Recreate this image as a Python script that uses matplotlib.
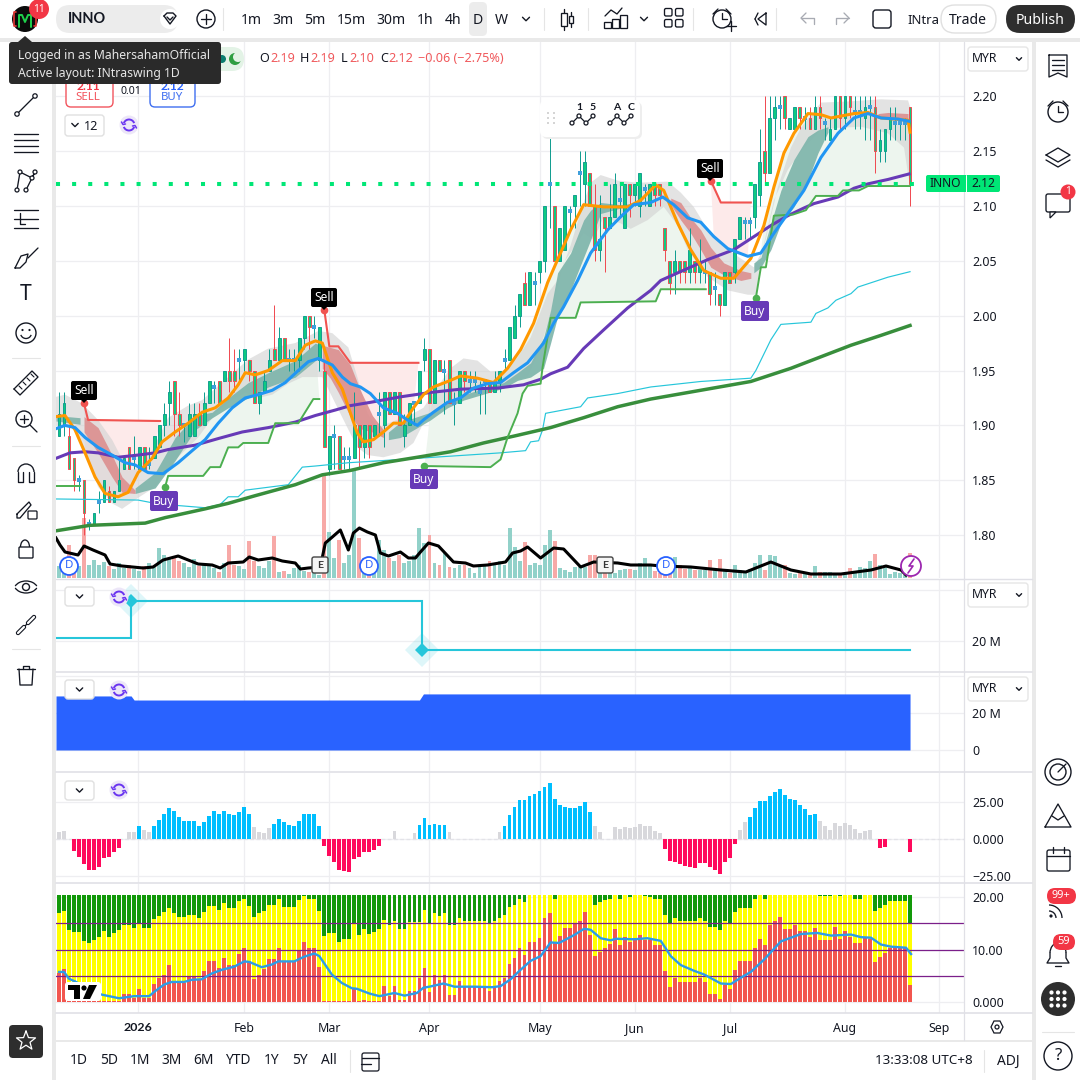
# INNO daily chart with indicators, TradingView style
import numpy as np
import matplotlib
matplotlib.use("Agg")
import matplotlib.pyplot as plt
from matplotlib.patches import FancyBboxPatch, Circle, Rectangle, Polygon, Arc

plt.rcParams["font.family"] = ["Noto Sans", "DejaVu Sans"]
BOLD = ["Lato", "DejaVu Sans"]

# ---- candles, one row is ten sessions ----
opens = [1.89,1.90,1.89,1.87,1.85,1.85,1.81,1.81,1.83,1.83,
         1.84,1.83,1.84,1.86,1.88,1.87,1.86,1.88,1.865,1.87,
         1.88,1.90,1.92,1.94,1.91,1.90,1.89,1.89,1.91,1.90,
         1.92,1.935,1.94,1.94,1.95,1.95,1.96,1.96,1.96,1.95,
         1.92,1.93,1.95,1.97,1.96,1.98,1.96,1.96,1.96,1.98,
         2.00,1.99,1.96,1.95,1.86,1.89,1.89,1.87,1.87,1.87,
         1.90,1.88,1.90,1.89,1.91,1.90,1.93,1.91,1.93,1.89,
         1.90,1.92,1.92,1.96,1.97,1.92,1.96,1.95,1.96,1.92,
         1.92,1.95,1.94,1.94,1.93,1.94,1.94,1.93,1.94,1.96,
         1.96,1.98,2.00,2.03,2.01,2.03,2.04,2.05,2.12,2.10,
         2.05,2.06,2.095,2.10,2.13,2.12,2.13,2.10,2.06,2.09,
         2.08,2.09,2.105,2.08,2.12,2.11,2.10,2.115,2.10,2.12,
         2.12,2.08,2.05,2.04,2.05,2.05,2.04,2.05,2.04,2.04,
         2.04,2.025,2.02,2.01,2.04,2.04,2.07,2.085,2.085,2.09,
         2.11,2.15,2.13,2.18,2.19,2.20,2.17,2.17,2.19,2.18,
         2.18,2.17,2.19,2.175,2.16,2.17,2.20,2.18,2.20,2.185,
         2.185,2.18,2.19,2.19,2.15,2.15,2.17,2.175,2.175,2.175,
         2.19]
highs = [1.93,1.93,1.90,1.87,1.855,1.85,1.815,1.82,1.84,1.85,
         1.845,1.84,1.87,1.87,1.88,1.89,1.88,1.88,1.88,1.89,
         1.90,1.92,1.94,1.94,1.93,1.90,1.92,1.92,1.92,1.93,
         1.94,1.94,1.94,1.95,1.98,1.97,1.97,1.97,1.96,1.95,
         1.93,1.95,1.97,2.01,1.99,1.98,1.97,1.97,1.98,2.00,
         2.00,2.00,1.99,1.96,1.89,1.90,1.89,1.88,1.88,1.93,
         1.90,1.90,1.90,1.90,1.93,1.93,1.93,1.93,1.93,1.91,
         1.92,1.92,1.95,1.98,1.97,1.96,1.96,1.96,1.96,1.93,
         1.95,1.95,1.95,1.95,1.94,1.94,1.94,1.95,1.95,1.97,
         1.99,2.01,2.02,2.04,2.04,2.04,2.05,2.10,2.17,2.10,
         2.08,2.10,2.10,2.11,2.15,2.15,2.13,2.12,2.11,2.09,
         2.12,2.13,2.12,2.12,2.12,2.12,2.13,2.12,2.12,2.12,
         2.12,2.08,2.05,2.06,2.05,2.05,2.08,2.05,2.07,2.05,
         2.04,2.04,2.02,2.04,2.04,2.07,2.09,2.09,2.09,2.12,
         2.17,2.20,2.20,2.20,2.20,2.20,2.18,2.19,2.19,2.19,
         2.19,2.20,2.20,2.18,2.18,2.20,2.20,2.20,2.20,2.20,
         2.20,2.20,2.20,2.20,2.17,2.17,2.19,2.19,2.18,2.18,
         2.19]
lows = [1.89,1.89,1.86,1.84,1.84,1.80,1.805,1.81,1.82,1.83,
        1.83,1.83,1.84,1.86,1.86,1.86,1.86,1.86,1.86,1.87,
        1.88,1.89,1.90,1.89,1.89,1.885,1.89,1.89,1.90,1.90,
        1.92,1.92,1.92,1.94,1.93,1.93,1.94,1.95,1.94,1.92,
        1.91,1.93,1.95,1.96,1.96,1.96,1.95,1.95,1.95,1.97,
        1.97,1.98,1.95,1.88,1.855,1.86,1.86,1.86,1.86,1.87,
        1.86,1.87,1.87,1.89,1.89,1.88,1.91,1.91,1.90,1.88,
        1.90,1.90,1.92,1.95,1.92,1.92,1.95,1.91,1.92,1.90,
        1.92,1.93,1.93,1.93,1.91,1.91,1.93,1.93,1.93,1.95,
        1.96,1.98,1.99,2.01,2.01,2.01,2.03,2.04,2.08,2.05,
        2.05,2.06,2.08,2.08,2.10,2.10,2.10,2.05,2.05,2.04,
        2.08,2.09,2.09,2.08,2.09,2.10,2.09,2.10,2.10,2.10,
        2.10,2.05,2.02,2.02,2.03,2.03,2.03,2.03,2.03,2.03,
        2.01,2.01,2.00,2.01,2.03,2.03,2.07,2.07,2.07,2.08,
        2.10,2.12,2.13,2.16,2.17,2.17,2.17,2.17,2.17,2.17,
        2.17,2.17,2.17,2.16,2.16,2.17,2.17,2.17,2.18,2.17,
        2.17,2.16,2.16,2.13,2.14,2.14,2.16,2.16,2.16,2.16,
        2.10]
closes = [1.91,1.92,1.86,1.85,1.85,1.82,1.81,1.82,1.83,1.85,
          1.83,1.84,1.85,1.87,1.86,1.87,1.88,1.86,1.865,1.89,
          1.90,1.91,1.93,1.91,1.90,1.90,1.91,1.91,1.90,1.92,
          1.94,1.935,1.92,1.95,1.94,1.94,1.96,1.97,1.95,1.92,
          1.93,1.94,1.96,1.96,1.98,1.96,1.96,1.96,1.98,2.00,
          1.99,1.99,1.99,1.88,1.89,1.89,1.86,1.87,1.87,1.90,
          1.88,1.90,1.88,1.90,1.91,1.93,1.91,1.93,1.90,1.90,
          1.92,1.92,1.95,1.97,1.92,1.96,1.95,1.95,1.92,1.92,
          1.95,1.94,1.94,1.94,1.93,1.94,1.93,1.94,1.95,1.96,
          1.99,2.00,2.02,2.01,2.04,2.03,2.05,2.10,2.12,2.05,
          2.08,2.10,2.095,2.11,2.13,2.14,2.10,2.06,2.07,2.08,
          2.09,2.12,2.105,2.12,2.11,2.12,2.13,2.115,2.12,2.11,
          2.11,2.06,2.03,2.05,2.04,2.04,2.06,2.04,2.05,2.04,
          2.02,2.025,2.01,2.04,2.03,2.07,2.09,2.085,2.085,2.12,
          2.14,2.13,2.18,2.19,2.19,2.18,2.18,2.19,2.18,2.18,
          2.17,2.19,2.18,2.175,2.17,2.20,2.18,2.20,2.19,2.185,
          2.185,2.19,2.19,2.15,2.16,2.17,2.18,2.175,2.175,2.175,
          2.12]
volume = [12,10,33,8,12,60,13,18,13,16,
          12,9,15,10,13,9,7,12,15,12,
          30,23,20,20,17,15,11,19,12,13,
          12,10,6,15,33,13,12,9,37,17,
          12,10,17,42,6,7,4,10,13,7,
          6,6,3,103,46,20,38,15,23,108,
          40,20,13,17,38,28,20,17,23,15,
          17,23,50,35,43,15,13,25,11,10,
          13,13,10,5,13,14,17,13,17,13,
          50,31,17,36,13,15,13,33,48,37,
          10,8,6,11,11,11,23,23,18,13,
          10,5,8,9,9,8,15,20,12,7,
          5,6,5,21,13,9,11,8,8,8,
          18,8,19,9,5,13,8,7,9,15,
          23,8,23,22,12,13,5,4,5,5,
          4,12,6,6,6,3,5,5,10,7,
          11,10,17,24,13,11,4,6,5,3,
          25]

# ---- moving averages, as bar position and price ----
orange_x = [-0.6,1.2,3.2,5.2,7.2,9.2,11.8,13.8,15.8,18.6,20.6,23.2,25.8,28.6,31.2,33.8,35.8,37.2,39.2,41.8,44.6,47.2,49.2,51.2,52.6,
            54.6,56.6,58.6,59.6,60.8,62.8,64.8,66.8,68.8,70.8,72.8,74.8,78.2,80.2,83.6,86.8,89.6,92.2,94.8,97.6,99.6,102.2,104.8,108.8,
            113.6,116.2,119.2,120.8,123.6,126.2,128.8,132.2,134.8,138.2,140.8,142.8,144.8,146.8,149.6,152.2,154.2,158.8,161.6,164.2,169.6,170.0]
orange_y = [1.908,1.909,1.896,1.875,1.853,1.838,1.835,1.839,1.857,1.870,1.885,1.894,1.902,1.912,1.916,1.925,1.937,1.948,1.946,1.950,1.959,1.959,1.973,1.977,1.975,
            1.948,1.933,1.906,1.893,1.885,1.887,1.894,1.902,1.902,1.916,1.928,1.935,1.941,1.945,1.943,1.939,1.952,1.969,1.993,2.030,2.051,2.078,2.101,2.099,
            2.099,2.105,2.119,2.114,2.084,2.060,2.041,2.034,2.034,2.052,2.082,2.117,2.148,2.166,2.184,2.183,2.180,2.184,2.185,2.180,2.178,2.167]
blue_x = [-0.6,1.2,3.2,5.2,7.8,10.6,13.2,15.2,17.8,20.8,23.8,26.6,29.2,31.8,34.6,37.2,39.8,42.6,45.2,47.8,49.8,51.8,54.6,56.6,58.2,60.2,62.2,64.8,67.6,69.6,71.6,
          72.8,74.8,77.6,80.2,82.8,85.6,88.2,90.8,93.6,96.8,98.8,100.8,103.6,106.2,109.6,112.2,114.8,118.2,120.6,122.8,125.6,128.2,130.8,133.6,137.6,140.2,142.8,
          145.6,148.8,152.2,155.6,158.8,161.6,164.2,167.6,169.8]
blue_y = [1.897,1.900,1.898,1.889,1.880,1.873,1.866,1.864,1.857,1.856,1.866,1.877,1.887,1.902,1.916,1.925,1.928,1.932,1.939,1.950,1.958,1.961,1.955,1.944,1.938,1.935,1.929,1.916,1.911,1.905,1.900,
          1.905,1.912,1.921,1.925,1.934,1.938,1.939,1.948,1.957,1.975,1.993,2.008,2.032,2.057,2.078,2.090,2.101,2.103,2.108,2.101,2.089,2.085,2.072,2.061,2.054,2.057,2.075,
          2.093,2.114,2.144,2.166,2.180,2.184,2.180,2.179,2.177]
purple_x = [-0.6,2.2,5.2,7.8,11.8,15.8,19.2,21.8,27.2,31.8,36.6,41.8,47.2,51.2,55.2,58.2,62.2,68.2,74.2,80.2,87.6,92.8,96.2,98.2,101.6,104.8,108.8,113.6,118.2,120.2,
            125.6,129.6,134.8,142.2,145.6,148.8,150.8,155.6,158.8,161.6,165.6,169.8]
purple_y = [1.870,1.875,1.876,1.875,1.871,1.873,1.875,1.878,1.882,1.888,1.894,1.898,1.903,1.909,1.914,1.918,1.921,1.926,1.930,1.933,1.934,1.937,1.942,1.947,1.953,1.970,1.987,2.007,2.023,2.032,
            2.043,2.051,2.060,2.082,2.091,2.098,2.102,2.108,2.116,2.120,2.124,2.129]
dgreen_x = [-0.6,6.2,17.2,21.2,29.2,33.8,39.2,47.2,52.6,58.2,64.8,71.6,78.2,84.8,91.6,98.2,104.8,111.6,118.2,128.2,138.2,146.2,158.2,164.2,170.0]
dgreen_y = [1.804,1.809,1.811,1.816,1.824,1.829,1.836,1.846,1.855,1.859,1.866,1.871,1.876,1.884,1.891,1.898,1.907,1.917,1.924,1.932,1.940,1.952,1.973,1.982,1.991]
cyan_x = [-0.6,15.8,19.2,23.8,29.2,32.2,33.8,35.8,37.2,45.8,48.6,51.2,57.8,64.8,81.6,88.2,93.2,94.2,95.8,96.6,97.2,104.2,105.6,111.6,118.2,128.2,138.2,139.2,142.2,144.2,
          150.2,151.2,153.6,155.2,158.2,159.6,163.6,165.6,170.0]
cyan_y = [1.833,1.832,1.829,1.827,1.825,1.828,1.835,1.835,1.841,1.846,1.862,1.863,1.866,1.868,1.873,1.875,1.877,1.885,1.886,1.896,1.911,1.917,1.925,1.929,1.935,1.940,1.943,1.950,1.978,1.992,
          1.994,2.002,2.007,2.014,2.020,2.026,2.032,2.035,2.040]

# ---- trailing stops ----
gstop0_x = [-0.6,4.2]
gstop0_y = [1.845,1.845]
gstop1_x = [21.2,21.8,28.8,30.2,32.2,33.8,35.8,36.8,41.8,43.2,47.8,50.8,52.0]
gstop1_y = [1.844,1.854,1.854,1.862,1.862,1.880,1.880,1.884,1.884,1.902,1.902,1.924,1.924]
gstop2_x = [73.0,86.2,88.2,89.6,91.6,92.6,93.6,96.2,96.6,98.2,103.2,104.2,119.2,120.2,129.2]
gstop2_y = [1.863,1.862,1.869,1.889,1.911,1.929,1.936,1.938,1.953,1.998,1.998,2.012,2.013,2.024,2.024]
gstop3_x = [139.2,140.2,141.2,142.8,146.6,149.2,151.2,155.6,156.6,159.8,161.6,170.0]
gstop3_y = [2.016,2.044,2.044,2.091,2.092,2.096,2.109,2.109,2.114,2.114,2.118,2.118]
rstop1_x = [5.0,5.8,20.2]
rstop1_y = [1.920,1.905,1.904]
rstop2_x = [53.0,54.0,55.8,58.2,71.8]
rstop2_y = [2.005,1.972,1.972,1.957,1.957]
rstop3_x = [130.2,132.2,138.2]
rstop3_y = [2.123,2.103,2.103]

# ---- grey envelope ----
grey_up_x = [-0.6,1.2,4.6,7.8,10.6,13.8,15.8,18.6,21.8,25.8,28.6,33.8,37.8,41.8,47.2,51.8,54.6,57.8,59.6,61.6,63.6,70.8,72.8,75.6,78.2,80.8,83.6,86.2,88.8,91.6,94.2,97.6,
             99.6,102.2,104.8,106.2,108.2,111.6,115.6,121.6,124.2,126.8,129.6,133.6,138.8,140.8,143.6,146.2,148.2,152.2,157.6,164.2,169.6,170.0]
grey_up_y = [1.926,1.928,1.920,1.905,1.887,1.859,1.861,1.877,1.907,1.918,1.923,1.944,1.960,1.970,1.975,1.986,1.984,1.971,1.944,1.911,1.898,1.911,1.916,1.935,1.952,1.961,1.959,1.949,1.950,1.962,1.980,2.020,
             2.032,2.064,2.103,2.121,2.128,2.123,2.121,2.122,2.112,2.099,2.078,2.060,2.044,2.062,2.117,2.153,2.171,2.194,2.195,2.197,2.196,2.190]
grey_lo_x = [-0.6,3.2,5.8,7.8,10.6,12.6,15.8,19.2,22.6,25.8,27.8,31.8,34.6,37.2,39.8,42.6,45.8,48.6,52.6,57.6,59.6,61.6,64.8,68.2,70.8,72.8,77.6,80.8,84.2,87.6,90.8,93.6,96.2,98.2,
             100.8,104.8,106.8,108.8,112.2,114.2,117.6,120.8,123.6,125.6,129.6,133.6,137.6,139.2,140.2,142.8,145.6,148.8,152.2,155.6,160.2,165.6,168.8,169.8,170.0]
grey_lo_y = [1.900,1.897,1.870,1.844,1.829,1.824,1.834,1.844,1.866,1.880,1.889,1.914,1.923,1.930,1.925,1.928,1.938,1.944,1.944,1.898,1.880,1.873,1.871,1.875,1.884,1.902,1.916,1.923,1.928,1.935,1.941,1.944,1.971,2.002,
             2.048,2.075,2.069,2.090,2.084,2.079,2.087,2.099,2.082,2.060,2.035,2.023,2.019,2.019,2.053,2.105,2.133,2.153,2.169,2.171,2.172,2.166,2.153,2.123,2.123]

# ---- ribbon between the averages, each piece has position, top and bottom ----
teal0 = ([-0.6,4.2], [1.909,1.907], [1.904,1.901])
red1 = ([5.0,7.8,10.6,12.6,15.2], [1.908,1.898,1.873,1.853,1.841], [1.894,1.875,1.853,1.839,1.838])
teal1 = ([15.2,19.2,23.2,27.2,30.6,33.8,37.8,41.8,47.2,51.2,52.2],
         [1.843,1.857,1.889,1.909,1.912,1.925,1.939,1.948,1.959,1.975,1.973],
         [1.838,1.843,1.868,1.896,1.907,1.916,1.925,1.935,1.944,1.959,1.961])
red2 = ([52.6,54.2,55.8,58.2,60.2,62.6,64.8],
        [1.973,1.971,1.969,1.955,1.932,1.909,1.896],
        [1.952,1.943,1.930,1.908,1.897,1.894,1.889])
teal2 = ([65.8,68.2,71.6,74.2,77.6,80.8,88.8,91.6,94.2,96.8,98.2,99.6,102.2,104.8,106.2,108.2,112.2,116.2],
         [1.894,1.903,1.908,1.912,1.921,1.928,1.939,1.948,1.957,1.980,2.005,2.039,2.057,2.087,2.096,2.103,2.101,2.103],
         [1.887,1.889,1.898,1.905,1.916,1.923,1.934,1.941,1.944,1.952,1.975,1.999,2.023,2.053,2.069,2.093,2.098,2.101])
red3 = ([122.2,124.2,126.2,128.2,130.2,132.8,136.2,138.2],
        [2.107,2.103,2.089,2.078,2.062,2.048,2.041,2.039],
        [2.101,2.087,2.075,2.060,2.044,2.037,2.032,2.034])
teal3 = ([138.8,140.2,142.2,144.2,146.8,149.6,151.6,153.6],
         [2.048,2.053,2.084,2.114,2.142,2.163,2.169,2.172],
         [2.039,2.044,2.060,2.084,2.099,2.123,2.148,2.167])
red4 = ([163.6,165.6,169.6], [2.184,2.185,2.184], [2.180,2.180,2.178])

# black line over the volume bars
black_x = [-0.6,0.2,1.2,3.8,5,6.8,9.2,10.2,12.6,16.8,18.8,20.8,23.8,25.8,27.8,30.6,32.2,33.8,36.8,38,39.8,42.6,44.6,47.2,48.2,49.8,52.2,53.2,54.6,56.2,57.8,58.8,60,61.6,63.2,64.2,
           65.8,68.2,69.8,71.2,72.2,73.8,75.8,78.8,81.2,82.8,85.6,89.2,90.6,92.2,93.6,96.2,98.8,100.8,104.2,106.8,111.6,114.2,118.2,120.2,126.2,132.2,137.2,142.2,146.2,150.2,156.2,162.2,165.2,168.2,169.2]
black_y = [40,33,26,23,32,28,23,14,12,10,11,18,22,18,14,13,10,15,16,21,18,20,17,15,9,10,11,35,41,48,28,45,50,46,43,25,
           22,26,20,20,26,35,32,16,15,12,13,16,25,27,31,20,30,29,11,16,15,13,13,12,11,8,6,16,8,4,4,8,12,8,3]

# ---- lower panes ----
step1_x = [-0.6,14.4,14.4,72.6,72.6,170.0]
step1_y = [21.2,21.2,35.7,35.7,16.5,16.5]
area_x = [-0.6,14.4,15.0,72.0,72.8,170.0]
area_y = [29.2,29.2,27.0,27.0,30.3,30.3]
hist = [4.5,5.7,0,-8,-12,-17,-21,-21,-19,-13,
        -12,-9,-6,0,4.5,4.5,8.7,6,4.5,8.7,
        12.8,17,21,19,15,12,12,12,8.7,11.4,
        15.5,19,17,19,17,16,18,21.7,17,8,
        4.5,4,7.3,10,13.5,11.4,9.4,8.7,12,17,
        17,17,8.7,-4.5,-11.4,-15.5,-21,-21.7,-22.4,-13.5,
        -12,-8.7,-8.7,-7.3,-4.5,0,0,5.2,0,0,
        0,4,9.4,14,9.4,10,9.4,9.4,4.5,0,
        0,0,0,0,0,0,0,0,4.5,8.7,
        16,21.7,26.5,26.5,29,30.6,32.6,35.4,38,27,
        23,21.7,21,21,22.4,25,18,8.7,4.5,0,
        0,8,6.6,8,7.3,8,10,8.7,8.7,5.2,
        4,-6.6,-14.8,-15.5,-17,-18.3,-19,-19.6,-16,-16,
        -19,-21,-23.7,-15.5,-12.8,-3.2,6,11.4,15,21,
        25.8,25.8,29,32,34,30,27,26.5,23,20.3,
        16,17,12,8.7,6,10.7,8.7,10.7,9.4,6.6,
        4,5.2,6,0,-6,-5.2,0,0,0,0,
        -8.7]
# bright bars in the histogram, the rest are grey or magenta
hist_blue = [16,19,20,21,22,23,24,25,26,27,28,29,30,31,32,33,34,35,36,37,38,43,44,45,46,47,48,49,50,51,52,72,73,74,75,76,77,
             89,90,91,92,93,94,95,96,97,98,99,100,101,102,103,104,105,106,138,139,140,141,142,143,144,145,146,147,148,149,150,151]

stack_red = [5.6,6.3,0.4,0.2,0.2,0.2,0.2,0.2,0.2,0.2,
             0.2,0.2,0.2,1.7,1.7,0.8,2.6,0.8,0.8,3.6,
             4.6,5.3,7.2,4.0,3.7,3.7,5.0,5.0,4.4,6.0,
             7.8,7.8,6.6,8.4,7.2,7.2,9.2,10.3,7.8,4.4,
             5.3,6.3,8.2,8.2,10.3,7.8,7.8,7.8,9.7,11.4,
             10.3,10.3,6.7,0.2,0.2,0.2,0.2,0.2,0.2,2.6,
             0.2,0.4,0.2,0.2,0.2,3.2,1.3,3.2,0.4,0.4,
             2.1,2.1,4.7,6.5,1.9,5.3,4.2,5.3,1.5,1.5,
             4.0,3.0,3.0,3.0,3.0,3.0,2.1,3.0,4.0,4.7,
             7.4,8.4,10.3,9.0,11.5,11.5,12.2,16.1,16.9,11.3,
             12.6,14.2,14.2,14.9,15.5,17.1,12.8,8.8,9.6,10.3,
             11.1,14.0,10.9,12.4,11.5,12.2,12.8,11.9,11.9,10.9,
             10.9,5.9,3.0,4.7,3.8,3.8,3.8,3.8,4.7,3.8,
             1.7,1.7,0.7,3.4,2.6,6.1,7.8,7.8,7.8,10.3,
             12.1,10.9,14.7,15.5,16.3,14.0,14.0,14.7,13.6,13.6,
             12.4,14.2,11.9,11.9,11.9,14.4,12.1,13.6,12.4,11.3,
             11.3,12.2,12.1,7.6,8.6,9.4,10.3,10.3,10.3,10.3,
             3.4]
stack_yellow = [16.9,17.4,13.8,13.4,13.4,11.7,11.3,11.9,12.4,13.6,
                12.4,13.2,13.8,14.7,14.7,14.2,15.1,14.2,14.2,15.9,
                16.5,17.1,18.0,16.9,16.3,16.3,16.7,16.7,16.1,17.2,
                18.4,18.4,17.6,18.8,18.0,18.0,19.2,19.7,18.4,16.3,
                16.9,17.4,18.6,18.6,19.7,18.2,18.2,18.2,19.4,20.3,
                19.7,19.7,17.4,12.6,13.2,13.2,11.5,12.1,12.1,15.1,
                12.8,14.0,13.0,13.4,14.0,15.7,14.7,15.5,14.0,14.0,
                15.3,15.3,15.3,17.6,14.9,16.9,16.4,16.9,14.7,14.7,
                16.0,15.4,15.4,15.4,15.4,15.4,15.1,15.4,16.1,16.7,
                18.2,18.6,19.6,19.0,20.4,20.4,20.4,20.4,20.4,19.6,
                20.4,20.4,20.4,20.4,20.4,20.4,20.4,18.6,19.0,19.4,
                19.7,20.4,19.7,20.4,20.0,20.4,20.4,20.2,20.1,19.6,
                19.6,16.7,15.1,16.1,15.5,15.5,15.5,15.5,16.1,15.5,
                14.4,14.4,13.8,15.5,14.9,17.1,18.0,18.0,18.0,19.6,
                20.4,19.7,20.4,20.4,20.4,20.4,20.4,20.4,20.4,20.4,
                20.4,20.4,20.2,20.2,20.2,20.4,20.2,20.4,20.4,19.7,
                19.7,20.4,20.4,17.4,18.0,18.6,19.2,19.2,19.2,19.2,
                14.9]
stack_top = 20.4
rsi_x = [0,1,2,3.2,7.5,9,12,15,18,19,21,22.5,25,26.5,28.5,30.5,32.5,35,37,38,40.5,42.5,43.8,47,49,51,52,54.5,56.5,58.5,59.5,62,64,67,69,71.5,72.8,74,76.8,79,83,86.5,
         88.2,90.2,92.2,94.2,96.2,98.2,99.9,102.9,104.9,106.2,108.2,110.2,111.2,114.9,117.5,120.2,122.2,124.2,126.9,128.9,132.2,134.2,136.2,138.2,140.9,144.2,148.2,151.5,154.2,158.2,160.2,162.2,164.2,166.2,169.2,170.2]
rsi_y = [5.8,5.8,4.5,4.0,1.7,1.4,0.8,1.2,1.2,2.0,3.4,3.9,3.9,4.3,4.4,5.5,6.2,6.8,7.8,7.7,6.7,7.2,7.8,7.8,8.7,9.3,8.8,5.3,3.7,2.7,2.6,1.7,1.2,1.8,1.3,1.8,2.8,3.0,3.6,3.0,3.0,2.9,
         3.1,4.4,6.2,7.9,8.8,11.4,11.3,12.8,14.0,13.8,12.2,11.8,12.1,12.0,12.2,11.7,8.8,7.1,6.0,5.3,3.6,3.5,4.7,5.8,8.2,11.6,13.0,13.2,12.7,12.9,12.4,12.3,11.0,10.6,10.4,9.2]

# ---- axis labels ----
month_pos = [15.8,37,54,74,96,115,134,157,175.8]
month_lab = ["2026","Feb","Mar","Apr","May","Jun","Jul","Aug","Sep"]
price_ticks = [2.20,2.15,2.10,2.05,2.00,1.95,1.90,1.85,1.80]
tf_lab = ["1m","3m","5m","15m","30m","1h","4h","D","W"]
range_lab = ["1D","5D","1M","3M","6M","YTD","1Y","5Y","All"]

x = np.arange(len(opens))
o, h, l, c = map(np.array, (opens, highs, lows, closes))
vol = np.array(volume)
down = c < o
doji = c == o

INK = "#131722"
GRID = "#eeeef1"
SEP = "#e0e0e6"
XL = (-0.6, 180.78)

fig = plt.figure(figsize=(10.8, 10.8), dpi=100, facecolor="#e9e9e9")


def pane(y0, y1, ylim, ticks, labels, bold=False):
    ax = fig.add_axes([56/1080, 1-y1/1080, 908/1080, (y1-y0)/1080], zorder=2)
    ax.set_xlim(*XL)
    ax.set_ylim(*ylim)
    ax.set_xticks(month_pos)
    ax.set_yticks(ticks)
    texts = ax.set_yticklabels(labels, fontsize=8.9, color=INK)
    if bold:
        for t in texts:
            t.set_family(BOLD)
            t.set_fontweight("bold")
            t.set_fontsize(9.2)
    ax.yaxis.tick_right()
    ax.tick_params(axis="y", length=0, pad=5.8)
    ax.tick_params(axis="x", length=0, labelbottom=False)
    ax.grid(True, color=GRID, lw=0.9)
    ax.set_axisbelow(True)
    for s in ax.spines.values():
        s.set_visible(False)
    return ax


# background panels
bg = fig.add_axes([0, 0, 1, 1], zorder=0)
bg.set_xlim(0, 1080)
bg.set_ylim(1080, 0)
bg.axis("off")
for rx, ry, rw, rh in [(0,0,1080,38),(0,42,52,1038),(56,42,976,998),(56,1042,976,38),(1036,42,44,1038)]:
    bg.add_patch(Rectangle((rx, ry), rw, rh, fc="white", ec="none"))

# ---- main pane ----
ybot = 2.20 - (578-96)/1098
ytop = 2.20 - (42-96)/1098
ax = pane(42, 578, (ybot, ytop), price_ticks, [f"{p:.2f}" for p in price_ticks], bold=True)

# volume sits on the pane floor, one unit is one pixel
ax.bar(x, vol/1098, bottom=ybot, width=0.78, zorder=1.2,
       color=["#f7a9a7" if d else "#92d1c9" for d in down])


def region(sx, sy, lx, ly, color):
    # stop line on one side, average on the other
    lx = np.array(lx)
    ly = np.array(ly)
    keep = (lx >= sx[0]) & (lx <= sx[-1])
    px = np.r_[sx, lx[keep][::-1]]
    py = np.r_[sy, ly[keep][::-1]]
    ax.fill(px, py, color=color, lw=0, zorder=1.5)


region(rstop1_x, rstop1_y, orange_x, orange_y, "#fdeaea")
region(rstop2_x, rstop2_y, orange_x, orange_y, "#fdeaea")
region(rstop3_x, rstop3_y, blue_x, blue_y, "#fdeaea")
region(gstop1_x, gstop1_y, orange_x, orange_y, "#edf5ee")
region(gstop2_x, gstop2_y, orange_x, orange_y, "#edf5ee")
region(gstop3_x, gstop3_y, orange_x, orange_y, "#edf5ee")

ax.fill(np.r_[grey_up_x, grey_lo_x[::-1]], np.r_[grey_up_y, grey_lo_y[::-1]],
        color="#d2d2d2", alpha=0.62, lw=0, zorder=2)
for xs, top, bot in (teal0, teal1, teal2, teal3):
    ax.fill_between(xs, bot, top, color="#7fb5ab", alpha=0.92, lw=0, zorder=2.2)
for xs, top, bot in (red1, red2, red3, red4):
    ax.fill_between(xs, bot, top, color="#dc8f8f", alpha=0.9, lw=0, zorder=2.2)

# candles: the body is green either way, the outline and wick tell the direction
edge = np.where(down, "#f0474e", "#0d9b8e")
ax.vlines(x, l, h, colors=edge, lw=0.7, zorder=3)
solid = ~doji
ax.bar(x[solid], (c-o)[solid], bottom=o[solid], width=0.56, color="#0ecb81",
       edgecolor=edge[solid], lw=0.65, zorder=3.1)
ax.plot(x[doji], c[doji], ls="none", marker="s", ms=2.2, color="#3f9fdc", mew=0, zorder=3.2)

ax.plot(cyan_x, cyan_y, color="#26c6da", lw=0.85, zorder=3.4)
ax.plot(dgreen_x, dgreen_y, color="#388e3c", lw=2.5, zorder=3.5)
ax.plot(purple_x, purple_y, color="#673ab7", lw=2.2, zorder=3.6)
for sx, sy in ((gstop0_x, gstop0_y), (gstop1_x, gstop1_y), (gstop2_x, gstop2_y), (gstop3_x, gstop3_y)):
    ax.plot(sx, sy, color="#4caf50", lw=1.4, zorder=3.7)
for sx, sy in ((rstop1_x, rstop1_y), (rstop2_x, rstop2_y), (rstop3_x, rstop3_y)):
    ax.plot(sx, sy, color="#f05350", lw=1.5, zorder=3.7)
ax.plot(orange_x, orange_y, color="#ff9800", lw=2.2, zorder=3.8)
ax.plot(blue_x, blue_y, color="#2196f3", lw=2.2, zorder=3.9)
ax.plot(black_x, ybot + np.array(black_y)/1098, color="black", lw=2.2, zorder=4)
ax.plot([-0.6, 179.6], [closes[-1], closes[-1]], color="#00e676", lw=2.9, ls=(0, (1, 3)), dash_capstyle="butt", zorder=4.1)

# signal dots at the head of each stop
ax.plot([rstop1_x[0], rstop2_x[0], rstop3_x[0]], [rstop1_y[0], rstop2_y[0], rstop3_y[0]],
        ls="none", marker="o", ms=5.5, color="#f05350", mew=0, zorder=4.2)
ax.plot([gstop1_x[0], gstop2_x[0], gstop3_x[0]], [gstop1_y[0], gstop2_y[0], gstop3_y[0]],
        ls="none", marker="o", ms=5.5, color="#4caf50", mew=0, zorder=4.2)

# ---- step line pane ----
ax2 = pane(579, 672, (7.8, 44.3), [20, 40], ["20 M", ""])
ax2.plot(step1_x, step1_y, color="#26c6da", lw=1.5, zorder=3, solid_joinstyle="miter")
ax2.plot([14.4, 72.6], [35.7, 16.5], ls="none", marker="D", ms=17, color="#26c6da", alpha=0.15, mew=0, zorder=3)
ax2.plot([14.4, 72.6], [35.7, 16.5], ls="none", marker="D", ms=7, color="#26c6da", mew=0, zorder=4)

# ---- blue area pane ----
ax3 = pane(673, 771, (-11.35, 41.6), [0, 20, 40], ["0", "20 M", ""])
ax3.fill_between(area_x, 0, area_y, color="#2962ff", lw=0, zorder=3)

# ---- histogram pane ----
ax4 = pane(773, 883, (-29.9, 44.7), [-25, 0, 25], ["\u221225.00", "0.000", "25.00"])
hcol = []
for i, v in enumerate(hist):
    if v < 0:
        hcol.append("#ff0a5c")
    elif i in hist_blue:
        hcol.append("#00bfff")
    else:
        hcol.append("#d8d8dc")
ax4.axhline(0, color="#e3e3e8", lw=0.9, ls=(0, (3, 2)), zorder=1)
ax4.bar(x, hist, width=0.76, color=hcol, zorder=3)

# ---- stacked pane ----
ax5 = pane(884, 1013, (-2.0, 22.5), [0, 10, 20], ["0.000", "10.00", "20.00"])
s_red = np.array(stack_red)
s_yel = np.array(stack_yellow)
ax5.bar(x, s_red, width=0.76, color="#f2564f", zorder=3)
ax5.bar(x, s_yel-s_red, bottom=s_red, width=0.76, color="#ffff00", zorder=3)
ax5.bar(x, stack_top-s_yel, bottom=s_yel, width=0.76, color="#129909", zorder=3)
for lev in (5, 10, 15):
    ax5.axhline(lev, color="#7b1f8a", lw=0.9, zorder=3.5)
ax5.plot(rsi_x, rsi_y, color="#2c9ce8", lw=1.7, zorder=4)
ax5.tick_params(axis="x", labelbottom=True, pad=6.5)
month_texts = ax5.set_xticklabels(month_lab, fontsize=8.9, color=INK)
month_texts[0].set_family(BOLD)
month_texts[0].set_fontweight("bold")

# ---- interface on top, in screen pixels ----
ui = fig.add_axes([0, 0, 1, 1], zorder=5)
ui.set_xlim(0, 1080)
ui.set_ylim(1080, 0)
ui.axis("off")
ui.patch.set_alpha(0)


def txt(px, py, s, size=14, color=INK, ha="center", weight="normal", z=8):
    fam = BOLD if weight == "bold" else plt.rcParams["font.family"]
    ui.text(px, py+1, s, fontsize=size*0.72, color=color, ha=ha, va="center", fontweight=weight, family=fam, zorder=z)


def box(px, py, w, h, r=4, fc="white", ec="none", lw=1.0, z=6):
    ui.add_patch(FancyBboxPatch((px, py), w, h, boxstyle=f"round,pad=0,rounding_size={r}",
                                fc=fc, ec=ec, lw=lw, zorder=z))


def circ(px, py, r, fc="white", ec="none", lw=1.0, z=7):
    ui.add_patch(Circle((px, py), r, fc=fc, ec=ec, lw=lw, zorder=z))


def ln(xs, ys, color=INK, lw=0.95, z=8):
    ui.plot(xs, ys, color=color, lw=lw, zorder=z, solid_capstyle="round", solid_joinstyle="round")


def chev(px, py, s=3.5, color=INK, lw=1.0):
    ln([px-s, px, px+s], [py-s/2, py+s/2, py-s/2], color, lw)


def sync(px, py):
    circ(px, py, 9.5, fc="#ece6f8", z=6)
    ui.add_patch(Arc((px, py), 11, 11, theta1=200, theta2=340, color="#6a35f0", lw=1.4, zorder=7))
    ui.add_patch(Arc((px, py), 11, 11, theta1=20, theta2=160, color="#6a35f0", lw=1.4, zorder=7))
    ln([px+3.5, px+6, px+7.5], [py+1, py+0.5, py+3], "#6a35f0", 1.1)
    ln([px-3.5, px-6, px-7.5], [py-1, py-0.5, py-3], "#6a35f0", 1.1)


def clock(px, py, r=10):
    circ(px, py, r, fc="white", ec=INK)
    ln([px, px, px+5], [py-6, py, py], INK)
    ln([px-r, px-r+5], [py-r+4, py-r-1], INK)
    ln([px+r, px+r-5], [py-r+4, py-r-1], INK)


# lines between the panes and in front of the price scale
ln([56, 1032], [578.5, 578.5], SEP, 1.0, 5)
ln([56, 1032], [672, 672], SEP, 1.2, 5)
ln([56, 1032], [772, 772], SEP, 1.2, 5)
ln([56, 1032], [883, 883], SEP, 1.2, 5)
ln([56, 1032], [1013, 1013], SEP, 1.2, 5)
ln([964, 964], [42, 1040], SEP, 0.9, 5)

# top bar
for sx in (223, 544, 588, 693, 776):
    ln([sx, sx], [8, 30], "#e5e5e5", 0.8)
circ(25, 19, 13, fc="#0b0b0b")
ln([19, 19, 22, 25, 28, 31, 31], [27, 15, 15, 22, 15, 15, 27], "#1fd14a", 1.4, 9)
ln([16, 14, 14, 16], [12, 12, 26, 26], "#e53935", 1.2, 9)
ln([34, 36, 36, 34], [12, 12, 26, 26], "#e53935", 1.2, 9)
circ(39, 9, 10, fc="#f23645", z=9)
txt(39, 8, "11", 10, "white", z=10)
box(56, 5, 122, 28, r=14, fc="#ececec")
txt(68, 18, "INNO", 14.5, ha="left", weight="bold")
circ(170, 19, 10, fc="white")
ln([164, 167, 173, 176, 170, 164], [16, 13, 13, 16, 24, 16], INK, 1.0)
ln([167, 170, 173], [17, 20, 17], INK, 1.0)
circ(206, 19, 9, fc="white", ec=INK)
ln([201, 211], [19, 19])
ln([206, 206], [14, 24])
box(469, 2, 18, 34, r=5, fc="#ececec")
for px, s in zip([251, 283, 315, 351, 391, 425, 453, 478, 501], tf_lab):
    txt(px, 19, s, 14)
chev(526, 19)
# candle icon
ln([564, 564], [9, 30])
ui.add_patch(Rectangle((561, 13), 6, 13, fc="white", ec=INK, lw=0.95, zorder=8))
ln([571, 571], [12, 27])
ui.add_patch(Rectangle((569, 16), 4, 7, fc="white", ec=INK, lw=0.95, zorder=8))
# indicators icon
for bx, bh in [(604, 6), (612, 9), (620, 13)]:
    ui.add_patch(Rectangle((bx, 28-bh), 7, bh, fc="white", ec=INK, lw=0.95, zorder=8))
ln([605, 611, 617, 622], [16, 10, 14, 8])
chev(644, 19)
for gx, gy in [(668, 12), (679, 12), (668, 23), (679, 23)]:
    box(gx-3.5, gy-3.5, 7.5, 7.5, r=1.5, fc="white", ec=INK, lw=0.95, z=8)
clock(722, 19, 9)
ln([726, 736], [26, 26])
ln([731, 731], [21, 31])
ln([766, 758, 766, 766], [13, 19, 25, 13])
ln([758, 755], [13, 19])
ln([755, 758], [19, 25])
# undo and redo arrows
ln([801, 814, 814], [18, 18, 24], "#a8abb3")
ln([806, 801, 806], [13, 18, 23], "#a8abb3")
ln([849, 836, 836], [18, 18, 24], "#a8abb3")
ln([844, 849, 844], [13, 18, 23], "#a8abb3")
box(873, 10, 18, 18, r=3, fc="white", ec=INK, lw=1.0, z=8)
ui.text(907, 20, "INtra", fontsize=9.4, color=INK, ha="left", va="center", zorder=8)
box(941, 5, 55, 28, r=14, fc="white", ec="#e0e0e0")
txt(968, 19, "Trade", 14)
box(1006, 5, 69, 28, r=14, fc="#2e2e2e")
txt(1040, 19, "Publish", 14, "white")

# tooltip and legend row
box(200, 47, 44, 24, r=12, fc="#e3f3e6")
circ(222, 59, 4, fc="#0b7d6e")
circ(235, 59, 6, fc="#2e9e41")
circ(238, 57, 5, fc="#e3f3e6", z=7.5)
ui.add_patch(Polygon([(18, 42), (25, 36), (32, 42)], fc="#2a2a2a", ec="none", zorder=8.5))
box(9, 42, 212, 42, r=3, fc="#2a2a2a", z=8.5)
txt(18, 54, "Logged in as MahersahamOfficial", 12.2, "#e6e6e6", ha="left", z=9)
txt(18, 72, "Active layout: INtraswing 1D", 12.2, "#e6e6e6", ha="left", z=9)
RED = "#f0595c"
for px, off, a, b in [(259, 11, "O", "2.19"), (300, 10, "H", "2.19"), (341, 8, "L", "2.10"), (380, 8, "C", "2.12")]:
    txt(px, 58, a, 12.6, ha="left")
    txt(px+off, 58, b, 12.6, RED, ha="left")
txt(418, 58, "\u22120.06 (\u22122.75%)", 12.6, RED, ha="left")

# buy and sell buttons, the prices stick out just below the tooltip
box(66, 72, 47, 35, r=5, fc="white", ec="#f2555e", z=6)
box(150, 72, 45, 35, r=5, fc="white", ec="#3f6ff0", z=6)
txt(88, 85, "2.11", 12, "#f23645", weight="bold")
txt(172, 85, "2.12", 12, "#2962ff", weight="bold")
txt(88, 97, "SELL", 11.5, "#f2555e")
txt(172, 97, "BUY", 11.5, "#3f6ff0")
txt(131, 90, "0.01", 10.5)
box(65, 115, 39, 21, r=3, fc="white", ec="#e0e0e0")
chev(75, 125, 3.2)
txt(91, 125, "12", 12.6)
sync(129, 125)

# drawing widget
box(542, 102, 100, 37, r=6, fc="#eeeeee", z=5.9)
box(540, 100, 100, 37, r=6, fc="white", z=6)
for dx in (548, 554):
    for dy in (113, 118, 123):
        ui.add_patch(Rectangle((dx-1, dy-1), 2.4, 2.4, fc="#d5d5d5", ec="none", zorder=7))
for wx, a, b in [(572, "1", "5"), (610, "A", "C")]:
    xs = [wx, wx+7, wx+14, wx+21]
    ys = [123, 116, 123, 116]
    ln(xs, ys, INK, 0.9)
    for qx, qy in zip(xs, ys):
        circ(qx, qy, 2, fc="white", ec=INK, lw=0.9, z=9)
    txt(wx+7, 107, a, 10.5, weight="bold")
    txt(wx+21, 107, b, 10.5, weight="bold")

# price scale furniture
for by in (47, 583, 677):
    box(968, by, 60, 24, r=3, fc="white", ec="#e6e6e6")
    txt(972, by+11, "MYR", 12.2, ha="left")
    chev(1019, by+12, 2.6)
box(926, 175, 74, 17, r=2, fc="#00e676")
txt(929, 182.5, "INNO", 12, ha="left")
ln([966, 966], [175, 192], "#ffffff", 0.7)
txt(971, 182.5, "2.12", 12, ha="left")

# sell and buy flags
for px, py in [(84, 391), (324, 298), (710, 169)]:
    box(px-13, py-10, 26, 19, r=2, fc="black")
    ui.add_patch(Polygon([(px-3, py+9), (px, py+12), (px+3, py+9)], fc="black", ec="none", zorder=6))
    txt(px, py-1.5, "Sell", 12, "white")
for px, py in [(164, 501), (424, 479), (755, 311)]:
    box(px-14, py-10, 28, 20, r=2, fc="#673ab7")
    txt(px, py-1, "Buy", 12, "white")

# earnings, dividend and news badges
for px in (69, 369, 666):
    circ(px, 566, 9, fc="white", ec="#2962ff", lw=1.3)
    txt(px, 565, "D", 11.5, "#2962ff")
for px in (320, 605):
    box(px-8, 557, 16, 16, r=2, fc="#f5f5f5", ec="#444444", lw=1.0)
    txt(px, 564, "E", 10.5, "#333333", weight="bold")
circ(911, 566, 10, fc="white", ec="#9c27b0", lw=1.3)
ln([914, 909, 913, 908], [559, 566, 566, 573], "#9c27b0", 1.2)

# pane dropdowns
for by, sy in [(587, 597), (680, 690), (781, 790)]:
    box(65, by, 29, 19, r=3, fc="white", ec="#e0e0e0")
    chev(79.5, by+9.5, 3.2)
    sync(119, sy)

# logo
box(65, 982, 36, 19, r=3, fc="white", z=6)
ui.add_patch(Polygon([(68, 985), (80, 985), (80, 999), (74, 999), (74, 990), (68, 990)], fc="black", ec="none", zorder=7))
circ(84, 988, 2.6, fc="black")
ui.add_patch(Polygon([(83, 999), (89, 985), (97, 985), (90, 999)], fc="black", ec="none", zorder=7))

# settings hexagon on the time scale
ui.add_patch(Polygon([(991, 1027), (994, 1021), (1000, 1021), (1003, 1027), (1000, 1033), (994, 1033)], fc="white", ec=INK, lw=0.9, zorder=8))
circ(997, 1027, 2, fc="white", ec=INK, lw=0.9, z=9)

# bottom bar
for px, s in zip([79, 109, 140, 172, 204, 238, 272, 300, 329], range_lab):
    txt(px, 1060, s, 13.8)
ln([350, 350], [1050, 1072], "#e5e5e5", 0.8)
box(362, 1053, 17, 18, r=2, fc="white", ec=INK, lw=0.9, z=8)
ln([362, 379], [1058, 1058])
ln([361, 371], [1064, 1064])
txt(973, 1060, "13:33:08 UTC+8", 13.4, ha="right")
ln([984, 984], [1050, 1072], "#e5e5e5", 0.8)
txt(1008, 1060, "ADJ", 13.8)

# left toolbar
T = 26
ln([T-9, T+9], [114, 96])
circ(T-9, 114, 2.2, ec=INK, lw=0.9, z=9)
circ(T+9, 96, 2.2, ec=INK, lw=0.9, z=9)
for yy in (134, 140, 146, 152):
    ln([T-12, T+12], [yy, yy])
ln([T-9, T-6, T+6, T+9, T], [190, 172, 178, 172, 190])
for qx, qy in [(T-9, 190), (T-6, 172), (T+6, 178), (T+9, 172), (T, 190)]:
    circ(qx, qy, 2, ec=INK, lw=0.9, z=9)
ln([T-12, T+12], [210, 210])
ln([T-12, T+12], [219, 219])
ln([T-12, T+12], [228, 228])
ln([T-6, T-6, T-1], [213, 224, 224])
ln([T-11, T-5, T+2, T, T-6, T-11], [268, 256, 254, 262, 268, 268])
ln([T+2, T+12], [258, 248])
txt(T, 294, "T", 21, INK)
circ(T, 333, 10, ec=INK)
circ(T-3.5, 330, 1.1, fc=INK)
circ(T+3.5, 330, 1.1, fc=INK)
ui.add_patch(Arc((T, 333), 11, 11, theta1=20, theta2=160, color=INK, lw=0.95, zorder=9))
ln([12, 40], [358, 358], "#e5e5e5", 0.8)
ln([T-12, T+6, T+12, T-6, T-12], [389, 371, 377, 395, 389])
for k in range(4):
    ln([T-7+k*4, T-4+k*4], [386-k*4, 389-k*4], INK, 0.8)
circ(T-2, 419, 8, ec=INK)
ln([T+4, T+11], [425, 432])
ln([T-6, T+2], [419, 419])
ln([T-2, T-2], [415, 423])
ln([12, 40], [446, 446], "#e5e5e5", 0.8)
ui.add_patch(Arc((T, 472), 16, 16, theta1=180, theta2=360, color=INK, lw=0.95, zorder=8))
ln([T-8, T-8, T-3, T-3], [472, 482, 482, 472])
ln([T+8, T+8, T+3, T+3], [472, 482, 482, 472])
ln([T-9, T+3, T+5, T-6, T-9, T-9], [514, 502, 505, 518, 518, 514])
box(T+2, 511, 9, 8, r=1, fc="white", ec=INK, lw=0.9, z=8)
box(T-7, 547, 14, 11, r=1, fc="white", ec=INK, lw=0.95, z=8)
ui.add_patch(Arc((T-1, 547), 9, 14, theta1=180, theta2=360, color=INK, lw=0.95, zorder=8))
ui.add_patch(Arc((T, 590), 24, 18, theta1=200, theta2=340, color=INK, lw=0.95, zorder=8))
ui.add_patch(Arc((T, 584), 24, 18, theta1=20, theta2=160, color=INK, lw=0.95, zorder=8))
circ(T, 587, 3.5, ec=INK)
ln([T-8, T-2], [633, 627], INK, 3.2)
ln([T-8, T-2], [633, 627], "white", 1.6, 9)
ln([T+2, T+8], [623, 617], INK, 3.2)
ln([T+2, T+8], [623, 617], "white", 1.6, 9)
ln([T-4, T+4], [629, 621])
ln([12, 40], [649, 649], "#e5e5e5", 0.8)
ln([T-9, T+9], [669, 669])
ln([T-3, T-3, T+3, T+3], [669, 666, 666, 669])
ln([T-7, T-6, T+6, T+7], [669, 685, 685, 669])
box(9, 1025, 34, 33, r=4, fc="#2e2e2e")
star_a = np.deg2rad(np.arange(-90, 270, 36))
star_r = np.where(np.arange(10) % 2 == 0, 10, 4.2)
ln(np.r_[T + star_r*np.cos(star_a), T + star_r[0]*np.cos(star_a[0])],
   np.r_[1041 + star_r*np.sin(star_a), 1041 + star_r[0]*np.sin(star_a[0])], "white", 0.9, 9)

# right toolbar
R = 1058
ln([R-9, R-9, R, R+9, R+9, R-9], [55, 77, 73, 77, 55, 55])
for yy in (60, 65, 70):
    ln([R-6, R+6], [yy, yy])
clock(R, 112, 10)
ln([R-12, R, R+12, R, R-12], [155, 148, 155, 162, 155])
ln([R-12, R, R+12], [160, 167, 160])
box(R-12, 194, 24, 18, r=2, fc="white", ec=INK, lw=0.95, z=7)
ui.add_patch(Polygon([(R-8, 212), (R-8, 218), (R-2, 212)], fc="white", ec=INK, lw=0.9, zorder=7))
circ(1068, 192, 7.5, fc="#f23645", z=9)
txt(1068, 191, "1", 10, "white", z=10)
circ(R, 772, 13, ec=INK)
circ(R, 772, 8, ec=INK)
ln([R, R+8], [772, 764])
ln([R-13, R, R+13, R-13], [827, 804, 827, 827])
ln([R-6, R, R+6], [816, 820, 816])
box(R-11, 850, 23, 21, r=2, fc="white", ec=INK, lw=0.95, z=7)
ln([R-11, R+12], [856, 856])
ln([R-5, R-5], [847, 853])
ln([R+6, R+6], [847, 853])
circ(R-7, 916, 1.6, fc=INK)
ui.add_patch(Arc((R-9, 918), 14, 14, theta1=270, theta2=360, color=INK, lw=0.95, zorder=8))
ui.add_patch(Arc((R-9, 918), 26, 26, theta1=270, theta2=360, color=INK, lw=0.95, zorder=8))
box(1047, 888, 29, 16, r=8, fc="#f23645", z=9)
txt(1061, 895, "99+", 11, "white", z=10)
ui.add_patch(Arc((R, 953), 16, 20, theta1=180, theta2=360, color=INK, lw=0.95, zorder=8))
ln([R-8, R-8, R-11, R+11, R+8, R+8], [953, 958, 963, 963, 958, 953])
ln([R-3, R+3], [966, 966])
box(1053, 934, 22, 16, r=8, fc="#f23645", z=9)
txt(1064, 941, "59", 11, "white", z=10)
circ(R, 999, 17, fc="#2e2e2e")
for gx in (-6.5, 0, 6.5):
    for gy in (-6.5, 0, 6.5):
        circ(R+gx, 999+gy, 2.1, fc="white", z=8)
circ(R, 1056, 14, ec=INK)
txt(R, 1055, "?", 17)
ln([1042, 1074], [1032, 1032], "#e5e5e5", 0.8)

fig.savefig("out.png", dpi=100)
